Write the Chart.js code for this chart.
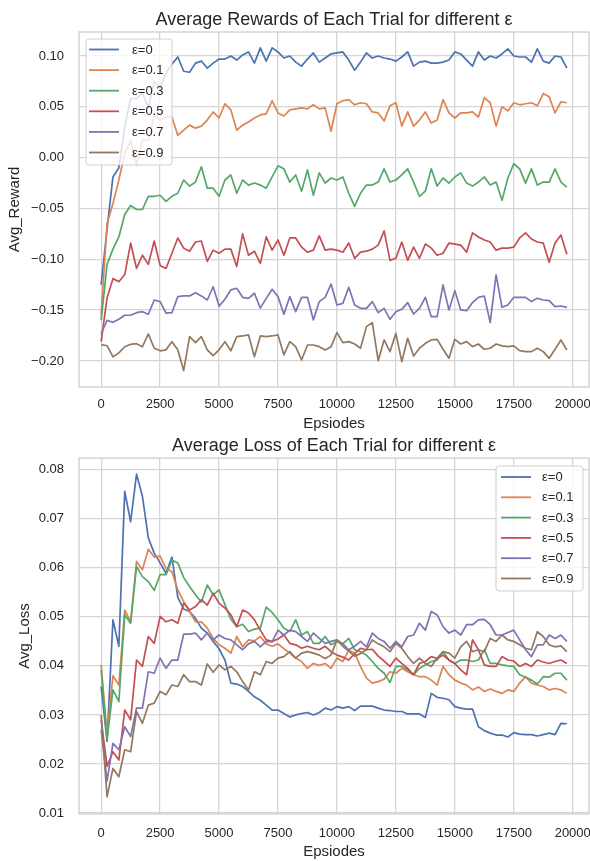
<!DOCTYPE html>
<html><head><meta charset="utf-8">
<script src="https://cdn.jsdelivr.net/npm/chart.js@4.4.0/dist/chart.umd.min.js"></script>
<style>
html,body{margin:0;padding:0;background:#fff;}
#wrap{position:relative;width:590px;height:861px;overflow:hidden;background:#fff;}
canvas{position:absolute;left:0;}
#c1{top:0px;}
#c2{top:436px;}
</style></head><body>
<div id="wrap"><canvas id="c1" width="590" height="436"></canvas><canvas id="c2" width="590" height="425"></canvas></div>
<script>
const episodes = [0,250,500,750,1000,1250,1500,1750,2000,2250,2500,2750,3000,3250,3500,3750,4000,4250,4500,4750,
5000,5250,5500,5750,6000,6250,6500,6750,7000,7250,7500,7750,8000,8250,8500,8750,9000,9250,9500,9750,
10000,10250,10500,10750,11000,11250,11500,11750,12000,12250,12500,12750,13000,13250,13500,13750,14000,14250,14500,14750,
15000,15250,15500,15750,16000,16250,16500,16750,17000,17250,17500,17750,18000,18250,18500,18750,19000,19250,19500,19750];

const seriesLabels = ['ε=0','ε=0.1','ε=0.3','ε=0.5','ε=0.7','ε=0.9'];
const xTicks = [0,2500,5000,7500,10000,12500,15000,17500,20000];
const rewardTicks = [-0.20,-0.15,-0.10,-0.05,0.00,0.05,0.10];
const lossTicks = [0.01,0.02,0.03,0.04,0.05,0.06,0.07,0.08];

const rewardEps0 = [-0.125,-0.070,-0.019,-0.010,0.030,0.058,0.058,0.064,0.049,0.075,
0.069,0.083,0.092,0.099,0.085,0.084,0.093,0.095,0.088,0.093,
0.097,0.097,0.100,0.096,0.101,0.104,0.093,0.108,0.095,0.108,
0.104,0.098,0.100,0.094,0.090,0.097,0.103,0.094,0.098,0.102,
0.103,0.104,0.096,0.086,0.094,0.103,0.098,0.100,0.098,0.097,
0.095,0.099,0.104,0.090,0.094,0.095,0.093,0.093,0.094,0.096,
0.104,0.102,0.096,0.090,0.104,0.096,0.100,0.098,0.102,0.107,
0.100,0.099,0.099,0.094,0.107,0.095,0.093,0.100,0.099,0.088];
const rewardEps01 = [-0.155,-0.065,-0.045,-0.022,0.004,0.017,-0.007,0.017,0.017,0.042,
0.037,0.040,0.040,0.022,0.027,0.032,0.029,0.031,0.037,0.045,
0.039,0.053,0.047,0.027,0.032,0.035,0.039,0.042,0.043,0.056,
0.044,0.041,0.047,0.048,0.049,0.048,0.052,0.048,0.049,0.026,
0.053,0.056,0.057,0.052,0.054,0.053,0.045,0.044,0.036,0.051,
0.054,0.031,0.045,0.031,0.037,0.045,0.034,0.037,0.057,0.044,
0.039,0.044,0.044,0.045,0.040,0.059,0.054,0.031,0.050,0.046,
0.054,0.052,0.053,0.054,0.051,0.063,0.060,0.044,0.055,0.054];
const rewardEps03 = [-0.160,-0.105,-0.090,-0.078,-0.056,-0.047,-0.051,-0.051,-0.038,-0.038,
-0.037,-0.043,-0.038,-0.035,-0.022,-0.028,-0.024,-0.009,-0.030,-0.030,
-0.038,-0.022,-0.017,-0.035,-0.022,-0.027,-0.025,-0.027,-0.030,-0.019,
-0.008,-0.011,-0.024,-0.017,-0.033,-0.012,-0.037,-0.015,-0.025,-0.020,
-0.022,-0.019,-0.035,-0.048,-0.035,-0.027,-0.027,-0.024,-0.011,-0.024,
-0.022,-0.017,-0.011,-0.024,-0.038,-0.033,-0.011,-0.028,-0.020,-0.025,
-0.019,-0.015,-0.025,-0.028,-0.024,-0.019,-0.027,-0.024,-0.042,-0.020,
-0.006,-0.011,-0.025,-0.011,-0.027,-0.024,-0.024,-0.011,-0.024,-0.029];
const rewardEps05 = [-0.181,-0.138,-0.119,-0.122,-0.115,-0.084,-0.109,-0.096,-0.105,-0.082,
-0.106,-0.109,-0.094,-0.079,-0.089,-0.092,-0.083,-0.082,-0.102,-0.091,
-0.094,-0.090,-0.090,-0.107,-0.075,-0.096,-0.092,-0.104,-0.078,-0.091,
-0.081,-0.096,-0.079,-0.079,-0.088,-0.093,-0.091,-0.077,-0.091,-0.090,
-0.091,-0.093,-0.084,-0.099,-0.093,-0.092,-0.090,-0.086,-0.072,-0.101,
-0.099,-0.083,-0.101,-0.088,-0.099,-0.085,-0.089,-0.096,-0.094,-0.084,
-0.085,-0.086,-0.093,-0.074,-0.078,-0.081,-0.083,-0.091,-0.089,-0.089,
-0.088,-0.079,-0.074,-0.080,-0.083,-0.084,-0.103,-0.084,-0.076,-0.095];
const rewardEps07 = [-0.173,-0.160,-0.162,-0.159,-0.155,-0.155,-0.1525,-0.1515,-0.154,-0.140,
-0.1416,-0.153,-0.1525,-0.1367,-0.136,-0.136,-0.1328,-0.136,-0.140,-0.127,
-0.146,-0.1393,-0.130,-0.1285,-0.1374,-0.1384,-0.1334,-0.148,-0.1384,-0.1295,
-0.1367,-0.154,-0.1367,-0.1515,-0.1374,-0.1374,-0.1597,-0.1416,-0.1374,-0.1243,
-0.1449,-0.1433,-0.1275,-0.1449,-0.1482,-0.1482,-0.1416,-0.1525,-0.1482,-0.159,
-0.1515,-0.1492,-0.1426,-0.1538,-0.1482,-0.1374,-0.1564,-0.1564,-0.1252,-0.1498,
-0.1308,-0.1498,-0.1505,-0.1426,-0.1374,-0.1361,-0.1623,-0.1154,-0.1472,-0.1449,
-0.1374,-0.1374,-0.1374,-0.1416,-0.1383,-0.140,-0.1407,-0.1466,-0.1459,-0.1472];
const rewardEps09 = [-0.184,-0.185,-0.196,-0.192,-0.186,-0.1836,-0.183,-0.186,-0.1734,-0.1875,
-0.190,-0.189,-0.181,-0.189,-0.2095,-0.176,-0.182,-0.176,-0.189,-0.1948,
-0.189,-0.181,-0.190,-0.176,-0.1754,-0.1744,-0.1958,-0.1754,-0.176,-0.1754,
-0.1744,-0.194,-0.181,-0.1859,-0.199,-0.1843,-0.1843,-0.1859,-0.1892,-0.1859,
-0.1721,-0.182,-0.181,-0.1833,-0.1875,-0.1662,-0.1623,-0.1997,-0.1793,-0.1908,
-0.1728,-0.2007,-0.1777,-0.1951,-0.1875,-0.1826,-0.1793,-0.1787,-0.1885,-0.1974,
-0.1787,-0.1833,-0.181,-0.1859,-0.1833,-0.1885,-0.1875,-0.1833,-0.1852,-0.1859,
-0.1852,-0.1898,-0.1908,-0.1908,-0.1875,-0.1908,-0.1974,-0.1885,-0.1793,-0.1892];

const lossEps0 = [0.0358,0.0246,0.0494,0.0440,0.0756,0.0694,0.0791,0.0746,0.0661,0.0630,
0.0610,0.0589,0.0622,0.0540,0.0516,0.0511,0.0497,0.0477,0.0467,0.0450,
0.0435,0.0412,0.0365,0.0363,0.0358,0.0348,0.0337,0.0330,0.0320,0.0310,
0.0310,0.0303,0.0296,0.0300,0.0303,0.0305,0.0300,0.0305,0.0314,0.0310,
0.0317,0.0314,0.0317,0.0309,0.0318,0.0318,0.0318,0.0314,0.0310,0.0309,
0.0307,0.0307,0.0302,0.0302,0.0302,0.0295,0.0344,0.0336,0.0334,0.0331,
0.0317,0.0314,0.0312,0.0312,0.0276,0.0268,0.0263,0.0259,0.0259,0.0255,
0.0264,0.0261,0.0260,0.0260,0.0257,0.0260,0.0263,0.0260,0.0283,0.0282];
const lossEps01 = [0.0402,0.0260,0.0380,0.0361,0.0514,0.0490,0.0613,0.0596,0.0638,0.0622,
0.0624,0.0599,0.0592,0.0555,0.0531,0.0511,0.0490,0.0490,0.0477,0.0456,
0.0443,0.0436,0.0426,0.0460,0.0439,0.0453,0.0451,0.0460,0.0445,0.0440,
0.0445,0.0435,0.0426,0.0416,0.0409,0.0395,0.0405,0.0401,0.0405,0.0395,
0.0416,0.0409,0.0432,0.0426,0.0399,0.0375,0.0365,0.0368,0.0373,0.0388,
0.0385,0.0395,0.0388,0.0382,0.0378,0.0378,0.0371,0.0361,0.0399,0.0382,
0.0371,0.0365,0.0361,0.0351,0.0357,0.0348,0.0353,0.0348,0.0344,0.0351,
0.0348,0.0365,0.0378,0.0365,0.0361,0.0358,0.0351,0.0354,0.0351,0.0344];
const lossEps03 = [0.0392,0.0249,0.0351,0.0327,0.0504,0.0487,0.0603,0.0582,0.0572,0.0554,
0.0586,0.0586,0.0616,0.0610,0.0580,0.0562,0.0545,0.0530,0.0565,0.0545,
0.0555,0.0525,0.0495,0.0480,0.0485,0.0470,0.0475,0.0477,0.0520,0.0509,
0.0494,0.0477,0.0470,0.0494,0.0463,0.0470,0.0446,0.0446,0.0460,0.0443,
0.0450,0.0445,0.0456,0.0433,0.0429,0.0422,0.0409,0.0395,0.0385,0.0366,
0.0399,0.0399,0.0392,0.0382,0.0395,0.0402,0.0409,0.0412,0.0429,0.0412,
0.0405,0.0412,0.0412,0.0409,0.0412,0.0433,0.0405,0.0405,0.0402,0.0400,
0.0399,0.0382,0.0377,0.0371,0.0363,0.0378,0.0377,0.0385,0.0385,0.0371];
const lossEps05 = [0.0290,0.0195,0.0225,0.0208,0.0310,0.0290,0.0412,0.0399,0.0460,0.0446,
0.0501,0.0490,0.0494,0.0487,0.0528,0.0514,0.0521,0.0535,0.0524,0.0548,
0.0528,0.0518,0.0504,0.0480,0.0514,0.0508,0.0494,0.0473,0.0453,0.0450,
0.0455,0.0463,0.0446,0.0443,0.0436,0.0440,0.0436,0.0433,0.0440,0.0429,
0.0422,0.0418,0.0412,0.0425,0.0436,0.0433,0.0434,0.0420,0.0410,0.0399,
0.0416,0.0405,0.0395,0.0382,0.0405,0.0409,0.0419,0.0415,0.0422,0.0412,
0.0405,0.0392,0.0382,0.0453,0.0433,0.0402,0.0399,0.0399,0.0419,0.0412,
0.0410,0.0399,0.0405,0.0399,0.0412,0.0408,0.0405,0.0409,0.0412,0.0405];
const lossEps07 = [0.0270,0.0165,0.0242,0.0229,0.0276,0.0256,0.0314,0.0314,0.0388,0.0385,
0.0416,0.0395,0.0412,0.0412,0.0465,0.0465,0.0467,0.0453,0.0467,0.0453,
0.0463,0.0456,0.0453,0.0443,0.0433,0.0445,0.0450,0.0439,0.0450,0.0449,
0.0473,0.0463,0.0473,0.0470,0.0460,0.0450,0.0467,0.0456,0.0446,0.0450,
0.0453,0.0445,0.0433,0.0440,0.0450,0.0439,0.0467,0.0456,0.0450,0.0436,
0.0450,0.0439,0.0460,0.0463,0.0487,0.0473,0.0511,0.0504,0.0480,0.0467,
0.0473,0.0463,0.0484,0.0484,0.0494,0.0495,0.0484,0.0463,0.0463,0.0468,
0.0473,0.0453,0.0433,0.0419,0.0443,0.0443,0.0463,0.0456,0.0463,0.0450];
const lossEps09 = [0.0300,0.0133,0.0191,0.0174,0.0229,0.0225,0.0307,0.0283,0.0320,0.0324,
0.0348,0.0341,0.0361,0.0358,0.0382,0.0368,0.0368,0.0361,0.0404,0.0387,
0.0402,0.0392,0.0399,0.0388,0.0368,0.0351,0.0388,0.0382,0.0409,0.0405,
0.0416,0.0419,0.0429,0.0416,0.0426,0.0429,0.0426,0.0422,0.0415,0.0422,
0.0453,0.0440,0.0430,0.0420,0.0425,0.0433,0.0453,0.0445,0.0439,0.0429,
0.0446,0.0436,0.0419,0.0405,0.0416,0.0405,0.0399,0.0416,0.0429,0.0426,
0.0416,0.0439,0.0450,0.0429,0.0433,0.0429,0.0456,0.0450,0.0463,0.0453,
0.0450,0.0443,0.0436,0.0433,0.0470,0.0460,0.0443,0.0439,0.0441,0.0429];

const rewardSeries = [rewardEps0, rewardEps01, rewardEps03, rewardEps05, rewardEps07, rewardEps09];
const lossSeries = [lossEps0, lossEps01, lossEps03, lossEps05, lossEps07, lossEps09];
const palette = ['#4c72b0','#dd8452','#55a868','#c44e52','#8172b3','#937860'];

const FONT = "'Liberation Sans', Arial, Helvetica, sans-serif";
const TEXT = '#262626';
const GRID = '#d5d5d5';
Chart.defaults.font.family = FONT;
Chart.defaults.color = TEXT;

function rr(c, x, y, w, h, r) {
  c.moveTo(x + r, y); c.lineTo(x + w - r, y); c.arcTo(x + w, y, x + w, y + r, r);
  c.lineTo(x + w, y + h - r); c.arcTo(x + w, y + h, x + w - r, y + h, r);
  c.lineTo(x + r, y + h); c.arcTo(x, y + h, x, y + h - r, r);
  c.lineTo(x, y + r); c.arcTo(x, y, x + r, y, r); c.closePath();
}

const decor = {
  id: 'decor',
  beforeDraw(chart) {
    const c = chart.ctx; c.save(); c.fillStyle = '#ffffff'; c.fillRect(0, 0, chart.width, chart.height); c.restore();
  },
  afterDatasetsDraw(chart, args, o) {
    const c = chart.ctx, a = chart.chartArea;
    c.save();
    c.strokeStyle = '#cccccc'; c.lineWidth = 1.25;
    c.strokeRect(a.left, a.top, a.right - a.left, a.bottom - a.top);
    const L = o.legend;
    c.beginPath(); rr(c, L.x, L.y, L.w, L.h, 3);
    c.fillStyle = 'rgba(255,255,255,0.8)'; c.fill();
    c.strokeStyle = '#d0d0d0'; c.lineWidth = 1; c.stroke();
    c.font = '13px ' + FONT; c.textBaseline = 'middle'; c.textAlign = 'left';
    chart.data.datasets.forEach((ds, k) => {
      const y = L.row0 + k * L.step;
      c.strokeStyle = ds.borderColor; c.lineWidth = 1.8; c.lineCap = 'butt';
      c.beginPath(); c.moveTo(L.x0, y); c.lineTo(L.x1, y); c.stroke();
      c.fillStyle = TEXT; c.fillText(ds.label, L.tx, y + 0.5);
    });
    c.restore();
  },
  afterDraw(chart, args, o) {
    const c = chart.ctx, a = chart.chartArea;
    c.save(); c.fillStyle = TEXT; c.textAlign = 'center'; c.textBaseline = 'alphabetic';
    c.font = '18px ' + FONT;
    c.fillText(o.title, (a.left + a.right) / 2, o.titleY);
    c.font = '15px ' + FONT;
    c.fillText(o.xlabel, (a.left + a.right) / 2, o.xlabelY);
    c.translate(o.ylabelX, (a.top + a.bottom) / 2); c.rotate(-Math.PI / 2);
    c.fillText(o.ylabel, 0, 0);
    c.restore();
  }
};

function fmtY(v) {
  if (Math.abs(v) < 1e-9) return '0.00';
  const s = Math.abs(v).toFixed(2);
  return (v < 0 ? '\u2212' : '') + s;
}

function buildDatasets(series) {
  return series.map((arr, k) => ({
    label: seriesLabels[k],
    data: episodes.map((e, i) => ({x: e, y: arr[i]})),
    borderColor: palette[k],
    backgroundColor: palette[k],
    borderWidth: 1.7,
    pointRadius: 0,
    tension: 0,
    fill: false,
    borderJoinStyle: 'round',
    order: 5 - k
  }));
}

function buildChart(id, series, cfg) {
  return new Chart(document.getElementById(id), {
    type: 'line',
    data: {datasets: buildDatasets(series)},
    options: {
      responsive: false, animation: false, devicePixelRatio: 1, events: [],
      layout: {padding: {top: cfg.top, right: 1, left: 0, bottom: 0}},
      plugins: {legend: {display: false}, tooltip: {enabled: false}, title: {display: false}, decor: cfg.decor},
      scales: {
        x: {
          type: 'linear', min: -940, max: 20690,
          afterBuildTicks: s => { s.ticks = xTicks.map(v => ({value: v})); },
          ticks: {autoSkip: false, maxRotation: 0, padding: cfg.xpad, color: TEXT, font: {size: 13},
                  callback: v => String(Math.round(v))},
          grid: {color: GRID, lineWidth: 1.3, drawTicks: false},
          border: {display: false},
          afterFit: s => { s.height = cfg.xh; s.paddingLeft = 0; s.paddingRight = 0; }
        },
        y: {
          type: 'linear', min: cfg.ymin, max: cfg.ymax,
          afterBuildTicks: s => { s.ticks = cfg.yticks.map(v => ({value: v})); },
          ticks: {autoSkip: false, padding: 15, color: TEXT, font: {size: 13}, callback: v => cfg.fmt(v)},
          grid: {color: GRID, lineWidth: 1.3, drawTicks: false},
          border: {display: false},
          afterFit: s => { s.width = 79; s.paddingTop = 0; s.paddingBottom = 0; }
        }
      }
    },
    plugins: [decor]
  });
}

buildChart('c1', rewardSeries, {
  top: 32, xh: 49, xpad: 10, ymin: -0.2256, ymax: 0.1236, yticks: rewardTicks, fmt: fmtY,
  decor: {title: 'Average Rewards of Each Trial for different ε', titleY: 24.5,
          xlabel: 'Epsiodes', xlabelY: 427.5, ylabel: 'Avg_Reward', ylabelX: 18.5,
          legend: {x: 86, y: 39, w: 86, h: 126, row0: 49.5, step: 20.6, x0: 89, x1: 119, tx: 132}}
});
buildChart('c2', lossSeries, {
  top: 22, xh: 47, xpad: 11.5, ymin: 0.0098, ymax: 0.0824, yticks: lossTicks, fmt: v => v.toFixed(2),
  decor: {title: 'Average Loss of Each Trial for different ε', titleY: 15,
          xlabel: 'Epsiodes', xlabelY: 420, ylabel: 'Avg_Loss', ylabelX: 28.5,
          legend: {x: 496, y: 30, w: 87, h: 125, row0: 41, step: 20.3, x0: 501, x1: 531, tx: 542}}
});
</script></body></html>
